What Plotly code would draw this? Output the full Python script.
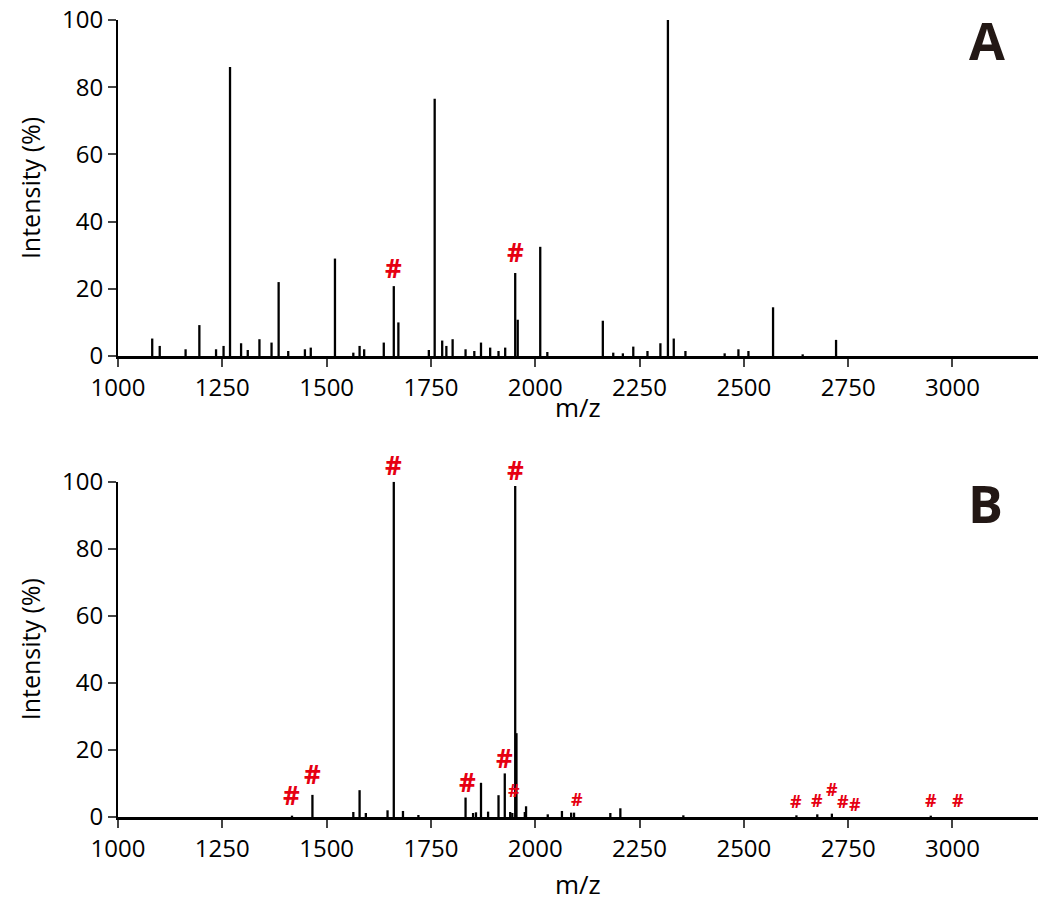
import plotly.graph_objects as go

# ---------------- data ----------------
# Panel A peaks (m/z, relative intensity %)
a_mz = [1082, 1100, 1162, 1195, 1235, 1253, 1268.5, 1295, 1311, 1339, 1368, 1385,
        1408, 1448, 1462, 1520, 1564, 1579, 1590, 1637, 1661, 1672, 1745, 1759,
        1777, 1787, 1802, 1833, 1854, 1870, 1892, 1912, 1928, 1952, 1958, 2012,
        2029, 2162, 2187, 2210, 2235, 2269, 2300, 2318, 2332, 2360, 2454, 2487,
        2511, 2570, 2641, 2721]
a_int = [5.2, 3.0, 2.0, 9.2, 2.0, 3.0, 86.0, 3.8, 1.8, 5.0, 4.0, 22.0,
         1.5, 2.0, 2.5, 29.0, 1.0, 3.0, 2.0, 4.0, 20.8, 10.0, 1.8, 76.6,
         4.6, 3.0, 5.0, 2.0, 1.5, 4.0, 2.5, 1.5, 2.5, 24.7, 10.8, 32.5,
         1.2, 10.5, 1.0, 0.8, 2.8, 1.5, 3.8, 100.0, 5.2, 1.5, 0.8, 2.0,
         1.5, 14.5, 0.5, 4.8]

# Panel B peaks
b_mz = [1417, 1466, 1564, 1579, 1594, 1646, 1661, 1683, 1720, 1833, 1851, 1858,
        1870, 1887, 1912, 1927, 1940, 1945, 1952, 1955, 1975, 1978, 2030, 2064,
        2086, 2093, 2180, 2204, 2355, 2626, 2676, 2711, 2948]
b_int = [0.4, 6.6, 1.5, 8.0, 1.2, 2.0, 100.0, 1.8, 0.6, 5.8, 1.2, 1.4,
         10.2, 1.6, 6.5, 13.0, 1.5, 1.2, 98.7, 25.0, 1.5, 3.2, 0.8, 1.8,
         1.3, 1.3, 1.2, 2.6, 0.5, 0.5, 0.8, 1.0, 0.4]

# '#' marks (m/z, label height %, big/small)
a_mark_mz = [1661, 1953]
a_mark_y = [26.1, 30.9]
a_mark_big = [True, True]

b_mark_mz = [1417, 1466, 1661, 1837, 1927, 1949, 1953, 2099, 2626, 2676, 2711, 2737, 2767, 2948, 3013]
b_mark_y = [6.5, 12.8, 105.0, 10.3, 17.7, 8.2, 103.5, 5.5, 4.7, 5.2, 8.4, 4.9, 3.9, 5.2, 5.2]
b_mark_big = [True, True, True, True, True, False, True, False, False, False, False, False, False, False, False]

x_ticks = [1000, 1250, 1500, 1750, 2000, 2250, 2500, 2750, 3000]
y_ticks = [0, 20, 40, 60, 80, 100]
Y_MAX = 100

# ---------------- style ----------------
FONT = "Open Sans"
RED = "#e60012"
INK = "#231815"
BIG, SMALL = 26, 18
PX_PER_UNIT = 3.36  # vertical pixels per 1 % (only to lift labels above the axis top)

fig = go.Figure()

fig.add_trace(go.Bar(x=a_mz, y=a_int, width=5.5, marker=dict(color="black", line=dict(width=0)),
                     xaxis="x", yaxis="y", showlegend=False, hoverinfo="skip"))
fig.add_trace(go.Bar(x=b_mz, y=b_int, width=5.5, marker=dict(color="black", line=dict(width=0)),
                     xaxis="x2", yaxis="y2", showlegend=False, hoverinfo="skip"))

xax = dict(range=[1000, 3205], tickvals=x_ticks, ticks="outside", ticklen=8, tickwidth=2,
           showline=True, linewidth=2.5, linecolor="black", showgrid=False, zeroline=False,
           automargin=False, ticklabeloverflow="allow",
           tickfont=dict(family=FONT, size=24, color="black"), domain=[0, 1])
yax = dict(range=[0, Y_MAX], tickvals=y_ticks, ticks="outside", ticklen=8, tickwidth=2,
           showline=True, linewidth=2, linecolor="black", showgrid=False, zeroline=False,
           automargin=False, ticklabeloverflow="allow",
           tickfont=dict(family=FONT, size=24, color="black"))

fig.update_layout(
    width=1050, height=909,
    margin=dict(l=118, r=12, t=20, b=92, autoexpand=False),
    paper_bgcolor="white", plot_bgcolor="white",
    barmode="overlay",
    xaxis=dict(xax, anchor="y"),
    yaxis=dict(yax, domain=[0.5784, 1.0], anchor="x"),
    xaxis2=dict(xax, anchor="y2"),
    yaxis2=dict(yax, domain=[0.0, 0.4207], anchor="x2"),
    font=dict(family=FONT, color="black"),
)


def mark(mz, yv, big, xr, yr):
    y_in = min(yv, Y_MAX)
    return dict(text="<b>#</b>", x=mz, y=y_in, xref=xr, yref=yr, showarrow=False,
                xanchor="center", yanchor="middle", yshift=(yv - y_in) * PX_PER_UNIT,
                font=dict(family=FONT, size=BIG if big else SMALL, color=RED))


ann = []
for mz, yv, big in zip(a_mark_mz, a_mark_y, a_mark_big):
    ann.append(mark(mz, yv, big, "x", "y"))
for mz, yv, big in zip(b_mark_mz, b_mark_y, b_mark_big):
    ann.append(mark(mz, yv, big, "x2", "y2"))

for yc in (0.789, 0.2103):
    ann.append(dict(text="Intensity (%)", xref="paper", yref="paper", x=-0.0957, y=yc,
                    textangle=-90, showarrow=False, font=dict(family=FONT, size=25, color="black"),
                    xanchor="center", yanchor="middle"))
for yc in ((817 - 407) / 797, (817 - 884) / 797):
    ann.append(dict(text="m/z", xref="paper", yref="paper", x=0.4995, y=yc, showarrow=False,
                    font=dict(family=FONT, size=26, color="black"), xanchor="center", yanchor="middle"))
ann.append(dict(text="<b>A</b>", xref="paper", yref="paper", x=0.9446, y=0.975, showarrow=False,
                font=dict(family=FONT, size=52, color=INK), xanchor="center", yanchor="middle"))
ann.append(dict(text="<b>B</b>", xref="paper", yref="paper", x=0.9424, y=0.395, showarrow=False,
                font=dict(family=FONT, size=52, color=INK), xanchor="center", yanchor="middle"))
fig.update_layout(annotations=ann)

# remove the browser's default page margin so the figure sits at the window's corner
fig.write_html("out.html", config={"displayModeBar": False},
               post_script="document.body.style.margin='0';")
